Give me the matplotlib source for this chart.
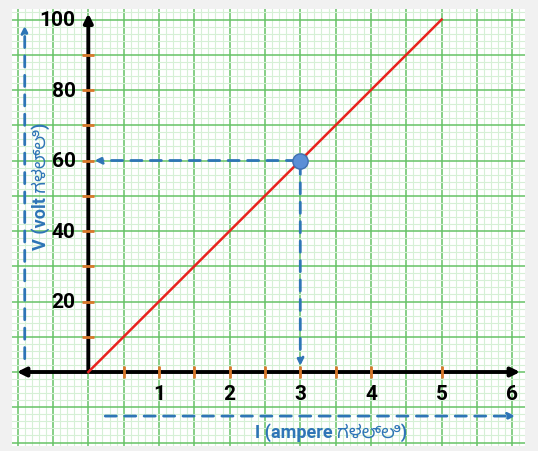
import matplotlib.pyplot as plt
from matplotlib.ticker import MultipleLocator

# data
current = [0, 5]          # I (ampere)
voltage = [0, 100]        # V (volt)
point_i, point_v = 3, 60  # highlighted reading
x_ticks = [1, 2, 3, 4, 5, 6]
y_ticks = [20, 40, 60, 80, 100]
x_marks = [0.5, 1, 1.5, 2, 2.5, 3, 3.5, 4, 5]
y_marks = [10, 20, 30, 40, 50, 60, 70, 80, 90]
x_label = 'I (ampere ಗಳಲ್ಲಿ)'
y_label = 'V (volt ಗಳಲ್ಲಿ)'

blue = '#2E75B6'
fonts = ['Roboto', 'Noto Sans Kannada', 'Noto Sans', 'DejaVu Sans']

fig = plt.figure(figsize=(5.38, 4.52), dpi=100, facecolor='#f1f1f1')
ax = fig.add_axes([0.0223, 0.011, 0.9535, 0.967])
ax.set_xlim(-1.08, 6.18)
ax.set_ylim(-21, 103)

# graph paper
ax.xaxis.set_major_locator(MultipleLocator(0.5))
ax.xaxis.set_minor_locator(MultipleLocator(0.1))
ax.yaxis.set_major_locator(MultipleLocator(10))
ax.yaxis.set_minor_locator(MultipleLocator(2))
ax.grid(which='minor', color='#d6f0d6', linewidth=0.8)
ax.grid(which='major', color='#66c266', linewidth=1.1)
ax.tick_params(which='both', length=0, labelbottom=False, labelleft=False)
for s in ax.spines.values():
    s.set_visible(False)

# axes with arrows
arr = dict(arrowstyle='-|>', color='black', lw=2.8, mutation_scale=13)
ax.annotate('', xy=(6.15, 0), xytext=(-0.02, 0), arrowprops=arr)
ax.annotate('', xy=(-1.05, 0), xytext=(0.02, 0), arrowprops=arr)
ax.annotate('', xy=(0, 102.5), xytext=(0, -0.5), arrowprops=arr)
ax.annotate('', xy=(0, -22), xytext=(0, 0.5), arrowprops=arr)

# orange tick marks
ax.plot(x_marks, [0] * len(x_marks), '|', color='#d9782a', markersize=9, markeredgewidth=2, zorder=3)
ax.plot([0] * len(y_marks), y_marks, '_', color='#d9782a', markersize=9, markeredgewidth=2, zorder=3)

# tick labels
for t in x_ticks:
    ax.text(t, -6, str(t), ha='center', va='center', fontsize=15, fontweight='bold', family=fonts)
for t in y_ticks:
    ax.text(-0.18, t, str(t), ha='right', va='center', fontsize=15, fontweight='bold', family=fonts)

# V-I line and point
ax.plot(current, voltage, color='#e8231f', linewidth=1.8, zorder=4)
darr = dict(arrowstyle='-|>', color=blue, lw=2, linestyle=(0, (4, 3)), mutation_scale=10)
ax.annotate('', xy=(0.05, point_v), xytext=(point_i, point_v), arrowprops=darr)
ax.annotate('', xy=(point_i, 1), xytext=(point_i, point_v), arrowprops=darr)
ax.plot(point_i, point_v, 'o', markersize=11, markerfacecolor='#5b8fd6', markeredgecolor='#3f6fb0', zorder=6)

# axis captions with dashed arrows
ax.annotate('', xy=(-0.9, 99), xytext=(-0.9, 3), arrowprops=darr)
ax.annotate('', xy=(6.08, -12.5), xytext=(0.2, -12.5), arrowprops=darr)
ax.text(-0.68, 53, y_label, rotation=90, ha='center', va='center', color=blue,
        fontsize=13, fontweight='bold', family=fonts)
ax.text(3.43, -17, x_label, ha='center', va='center', color=blue,
        fontsize=13, fontweight='bold', family=fonts)

fig.savefig('out.png', dpi=100, facecolor=fig.get_facecolor())
